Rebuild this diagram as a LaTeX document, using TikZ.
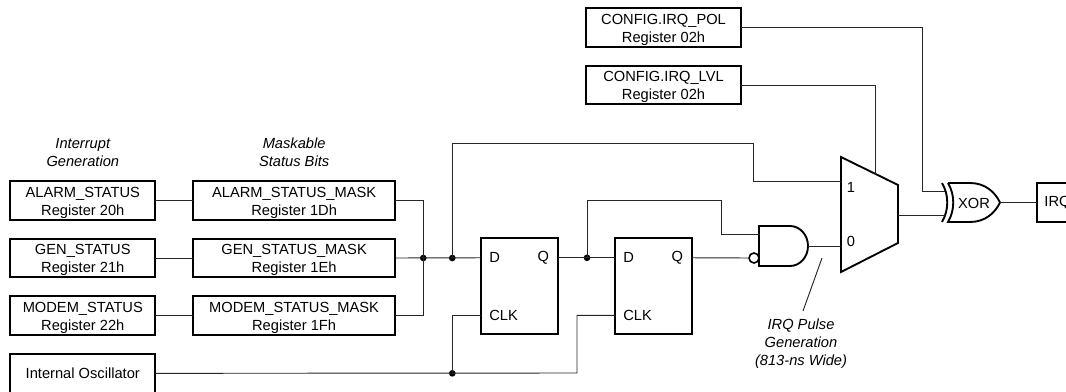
\documentclass[tikz,border=0pt]{standalone}
\usepackage{fontspec}
\setmainfont{Liberation Sans}
\usetikzlibrary{positioning}
\newlength{\nodedist}
\setlength{\nodedist}{14.25pt}
\newlength{\maskdist}
\setlength{\maskdist}{28.25pt}
\newlength{\ffdist}
\setlength{\ffdist}{42.75pt}
\tikzset{
	regbox/.style={rectangle, draw=black, line width=1.4pt, outer sep=0pt, inner sep=0pt, align=center, minimum width=108.75pt, minimum height=29pt, font=\fontsize{11}{13.5}\selectfont},
	tworow/.style={regbox, text height=24.5pt},
	maskbox/.style={tworow, minimum width=151.75pt},
	configbox/.style={tworow, minimum width=115.8pt},
	ffbox/.style={rectangle, draw=black, line width=1.4pt, outer sep=0pt, minimum width=57.75pt, minimum height=72pt},
	pinlabel/.style={inner sep=0pt, font=\fontsize{11}{13.5}\selectfont},
	note/.style={inner sep=0pt, align=center, font=\fontsize{11}{13.5}\selectfont\itshape},
	wire/.style={draw=black!85, line width=0.7pt},
	gate/.style={draw=black, line width=1.4pt, line join=miter},
	dot/.style={circle, fill=black, inner sep=0pt, minimum size=5pt},
	bubble/.style={circle, draw=black, line width=1.2pt, fill=white, inner sep=0pt, minimum size=7.5pt}
}

\begin{document}
\begin{tikzpicture}[x=0.75pt, y=-0.75pt]
\useasboundingbox (0,0) rectangle (1066,392);

\node[tworow, anchor=north west](alarm) at (10.3,181){ALARM\_STATUS\\Register 20h};
\node[tworow](gen)[below=\nodedist of alarm]{GEN\_STATUS\\Register 21h};
\node[tworow](modem)[below=\nodedist of gen]{MODEM\_STATUS\\Register 22h};
\node[regbox](osc)[below=\nodedist of modem]{Internal Oscillator};
\node[maskbox](alarmmask)[right=\maskdist of alarm]{ALARM\_STATUS\_MASK\\Register 1Dh};
\node[maskbox](genmask)[right=\maskdist of gen]{GEN\_STATUS\_MASK\\Register 1Eh};
\node[maskbox](modemmask)[right=\maskdist of modem]{MODEM\_STATUS\_MASK\\Register 1Fh};
\node[note](intlabel)[above=10.75pt of alarm]{Interrupt\\Generation};
\node[note](masklabel)[above=10.75pt of alarmmask]{Maskable\\Status Bits};

\node[configbox, anchor=north west](pol) at (586.3,8){CONFIG.IRQ\_POL\\Register 02h};
\node[configbox](lvl)[below=\nodedist of pol]{CONFIG.IRQ\_LVL\\Register 02h};

\node[ffbox, anchor=north west](ff1) at (481,238.3){};
\node[ffbox](ff2)[right=\ffdist of ff1]{};
\coordinate (ff1d) at ([yshift=-14.6pt]ff1.north west);
\coordinate (ff1q) at ([yshift=-14.6pt]ff1.north east);
\coordinate (ff1clk) at ([yshift=14.25pt]ff1.south west);
\coordinate (ff2d) at ([yshift=-14.6pt]ff2.north west);
\coordinate (ff2q) at ([yshift=-14.6pt]ff2.north east);
\coordinate (ff2clk) at ([yshift=14.25pt]ff2.south west);
\node[pinlabel, anchor=west](d1)[right=6pt of ff1d]{D};
\node[pinlabel, anchor=east](q1)[left=6.5pt of ff1q]{Q};
\node[pinlabel, anchor=west](clk1)[right=6pt of ff1clk]{CLK};
\node[pinlabel, anchor=west](d2)[right=6pt of ff2d]{D};
\node[pinlabel, anchor=east](q2)[left=6.5pt of ff2q]{Q};
\node[pinlabel, anchor=west](clk2)[right=6pt of ff2clk]{CLK};

\node[dot](j1) at ([xshift=21pt]genmask.east){};
\node[dot](j2)[right=21.75pt of j1.center, anchor=center]{};
\node[dot](j3) at ([xshift=21.75pt]ff1q){};
\node[dot](j4) at (j2 |- osc.east){};

\coordinate (anda) at (760,234);
\coordinate (andout) at (808,246);
\node[bubble](andb) at (754,258){};
\draw[gate] (759,226) -- (790,226) arc[start angle=90, end angle=-90, x radius=13.5pt, y radius=15pt] -- (759,266) -- cycle;

\coordinate (muxtl) at (841,157);
\coordinate (muxtr) at (898,185);
\coordinate (muxbr) at (898,243);
\coordinate (muxbl) at (841,272);
\coordinate (mux1) at (841,181);
\coordinate (mux0) at (841,246);
\coordinate (muxtap) at (875,173.7);
\coordinate (muxout) at (898,215);
\draw[gate] (muxtl) -- (muxtr) -- (muxbr) -- (muxbl) -- cycle;
\node[pinlabel](one) at (851,187){1};
\node[pinlabel](zero) at (851,241){0};

\coordinate (xora) at (945,191);
\coordinate (xorb) at (945,215);
\coordinate (xortip) at (1000,202.5);
\draw[gate] (948,183) -- (970,183) .. controls (985,183) and (995,192) .. (xortip) .. controls (995,213) and (985,222) .. (970,222) -- (948,222) .. controls (955,210) and (955,195) .. (948,183);
\draw[gate] (942,183) .. controls (949,195) and (949,210) .. (942,222);
\node[pinlabel](xorlabel) at (974,203){XOR};
\node[regbox, anchor=west, minimum width=30.75pt](irq) at (1037,202.5){IRQ};

\node[note](pulse) at (801,344){IRQ Pulse\\Generation\\(813-ns Wide)};
\coordinate (leadtop) at (822,258);
\coordinate (leadbot) at (803,311);
\draw[wire] (leadtop) -- (leadbot);

\draw[wire] (alarm.east) -- (alarmmask.west);
\draw[wire] (gen.east) -- (genmask.west);
\draw[wire] (modem.east) -- (modemmask.west);
\draw[wire] (alarmmask.east) -| (j1.center);
\draw[wire] (modemmask.east) -| (j1.center);
\draw[wire] (genmask.east) -- (ff1d);
\coordinate (topbend) at (753,143);
\draw[wire] (j2.center) |- (topbend) |- (mux1);
\draw[wire] (ff1q) -- (ff2d);
\coordinate (andbend) at (721,200);
\draw[wire] (j3.center) |- (andbend) |- (anda);
\draw[wire] (ff2q) -- (andb.west);
\draw[wire] (andout) -- (mux0);
\coordinate (clkbend) at (577,373);
\draw[wire] (osc.east) -- (clkbend) |- (ff2clk);
\draw[wire] (j4.center) |- (ff1clk);
\draw[wire] (lvl.east) -| (muxtap);
\coordinate (polbend) at (922,191);
\draw[wire] (pol.east) -| (polbend) -- (xora);
\draw[wire] (muxout) -- (xorb);
\draw[wire] (xortip) -- (irq.west);

\end{tikzpicture}
\end{document}
